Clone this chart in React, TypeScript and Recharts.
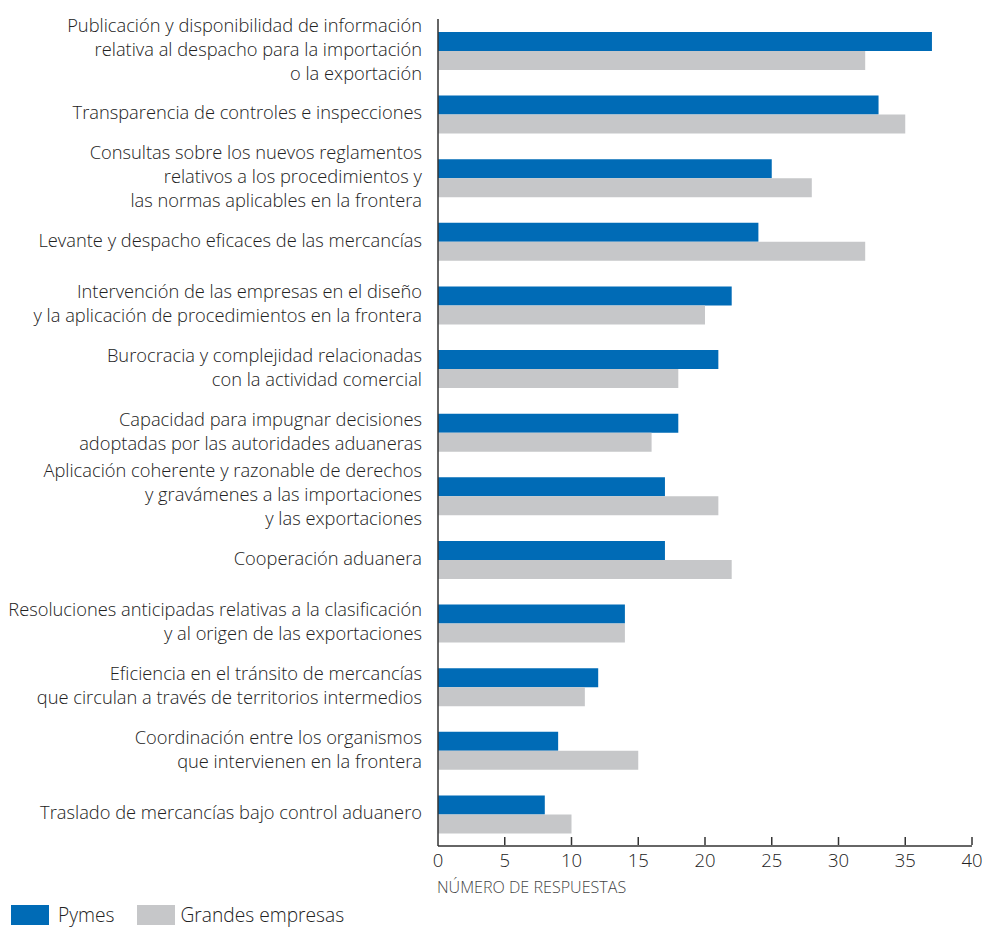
import React from "react";
import { BarChart, Bar, XAxis, YAxis } from "recharts";

const categories = [
  "Publicación y disponibilidad de información\nrelativa al despacho para la importación\no la exportación",
  "Transparencia de controles e inspecciones",
  "Consultas sobre los nuevos reglamentos\nrelativos a los procedimientos y\nlas normas aplicables en la frontera",
  "Levante y despacho eficaces de las mercancías",
  "Intervención de las empresas en el diseño\ny la aplicación de procedimientos en la frontera",
  "Burocracia y complejidad relacionadas\ncon la actividad comercial",
  "Capacidad para impugnar decisiones\nadoptadas por las autoridades aduaneras",
  "Aplicación coherente y razonable de derechos\ny gravámenes a las importaciones\ny las exportaciones",
  "Cooperación aduanera",
  "Resoluciones anticipadas relativas a la clasificación\ny al origen de las exportaciones",
  "Eficiencia en el tránsito de mercancías\nque circulan a través de territorios intermedios",
  "Coordinación entre los organismos\nque intervienen en la frontera",
  "Traslado de mercancías bajo control aduanero",
];
const pymes = [37, 33, 25, 24, 22, 21, 18, 17, 17, 14, 12, 9, 8];
const grandes = [32, 35, 28, 32, 20, 18, 16, 21, 22, 14, 11, 15, 10];
const xTicks = [0, 5, 10, 15, 20, 25, 30, 35, 40];

const BLUE = "#006bb6";
const GREY = "#c6c7c9";
const FONT = "'Open Sans', 'Noto Sans', sans-serif";

const data = categories.map((name, i) => ({ name, pymes: pymes[i], grandes: grandes[i] }));

function CategoryTick(props: any) {
  const { x, y, payload } = props;
  const lines = String(payload.value).split("\n");
  return (
    <text x={x} y={y} textAnchor="end" fill="#222" fontSize={18.3} fontWeight={300} fontFamily={FONT}>
      {lines.map((l, i) => (
        <tspan key={i} x={x} dy={i === 0 ? (-(lines.length - 1) / 2) * 24 + 5 : 24}>
          {l}
        </tspan>
      ))}
    </text>
  );
}

function NumberTick(props: any) {
  const { x, y, payload } = props;
  return (
    <g>
      {payload.value !== 0 && <line x1={x} x2={x} y1={y - 9} y2={y - 1} stroke="#333" strokeWidth={1.5} />}
      <text x={x} y={y + 21} textAnchor="middle" fill="#222" fontSize={18.5} fontWeight={300} fontFamily={FONT}>
        {payload.value}
      </text>
    </g>
  );
}

export default function App() {
  return (
    <div style={{ position: "absolute", left: 0, top: 0, width: 986, height: 930, background: "#fff", fontFamily: FONT }}>
      <BarChart
        layout="vertical"
        width={986}
        height={900}
        data={data}
        margin={{ top: 19, right: 14, bottom: 4, left: 0 }}
        barGap={0}
      >
        <XAxis
          type="number"
          domain={[0, 40]}
          ticks={xTicks}
          interval={0}
          height={50}
          axisLine={{ stroke: "#333", strokeWidth: 1.5 }}
          tickLine={false}
          tickSize={0}
          tickMargin={0}
          tick={<NumberTick />}
          label={{
            content: (p: any) => (
              <text x={p.viewBox.x - 1} y={p.viewBox.y + 47} fill="#444" fontSize={16.1} fontWeight={300} fontFamily={FONT}>
                NÚMERO DE RESPUESTAS
              </text>
            ),
          }}
        />
        <YAxis
          type="category"
          dataKey="name"
          width={438}
          interval={0}
          axisLine={{ stroke: "#333", strokeWidth: 1.5 }}
          tickLine={false}
          tickSize={0}
          tickMargin={16}
          tick={<CategoryTick />}
        />
        <Bar dataKey="pymes" fill={BLUE} barSize={19} isAnimationActive={false} />
        <Bar dataKey="grandes" fill={GREY} barSize={19} isAnimationActive={false} />
      </BarChart>
      <div style={{ position: "absolute", left: 11, top: 904, display: "flex", alignItems: "center", fontSize: 19.2, lineHeight: "22px", fontWeight: 300, color: "#222" }}>
        <span style={{ display: "inline-block", width: 38, height: 20, background: BLUE, marginRight: 9 }} />
        <span style={{ marginRight: 23 }}>Pymes</span>
        <span style={{ display: "inline-block", width: 38, height: 20, background: GREY, marginRight: 5 }} />
        <span>Grandes empresas</span>
      </div>
    </div>
  );
}
